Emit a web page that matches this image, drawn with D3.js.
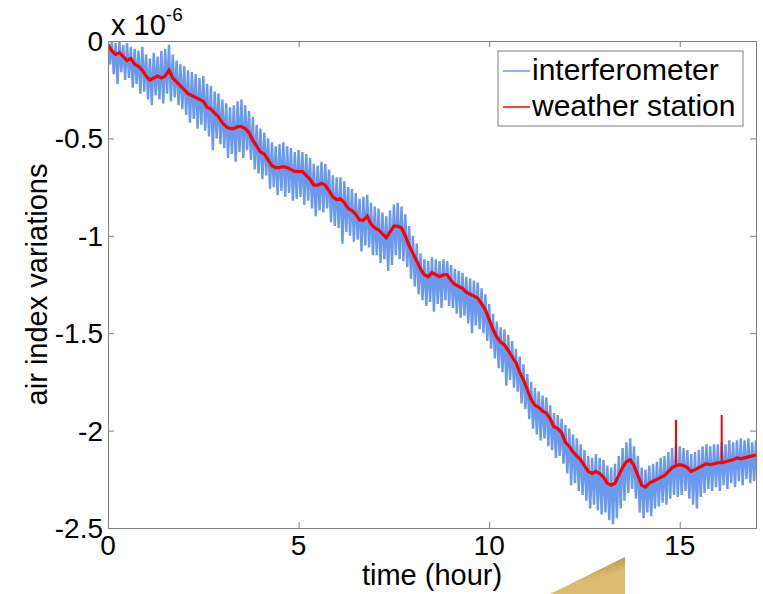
<!DOCTYPE html>
<html>
<head>
<meta charset="utf-8">
<script src="https://cdn.jsdelivr.net/npm/d3@7"></script>
<style>
  body { margin: 0; background: #fff; }
  svg { display: block; font-family: "Liberation Sans", Arial, sans-serif; }
</style>
</head>
<body>
<svg id="chart" width="763" height="594"></svg>
<script>
// time axis: one sample every 0.1 hour, 0 .. 17
const timeStep = 0.1;

// weather station (red), in units of 1e-6
const weatherStation = [
  -0.02, -0.05, -0.07, -0.06, -0.08, -0.10, -0.09, -0.12, -0.13, -0.15,
  -0.18, -0.20, -0.19, -0.18, -0.19, -0.18, -0.15, -0.19, -0.21, -0.23,
  -0.25, -0.27, -0.28, -0.29, -0.30, -0.31, -0.34, -0.35, -0.37, -0.39,
  -0.42, -0.44, -0.45, -0.45, -0.44, -0.44, -0.45, -0.47, -0.51, -0.54,
  -0.57, -0.58, -0.61, -0.64, -0.65, -0.65, -0.645, -0.65, -0.66, -0.67,
  -0.67, -0.67, -0.69, -0.71, -0.74, -0.74, -0.73, -0.74, -0.77, -0.80,
  -0.815, -0.81, -0.83, -0.86, -0.87, -0.89, -0.92, -0.92, -0.90, -0.94,
  -0.96, -0.97, -0.99, -1.01, -0.98, -0.95, -0.95, -0.96, -1.00, -1.05,
  -1.09, -1.13, -1.17, -1.20, -1.21, -1.19, -1.20, -1.21, -1.20, -1.20,
  -1.23, -1.25, -1.26, -1.27, -1.29, -1.30, -1.31, -1.32, -1.35, -1.38,
  -1.43, -1.48, -1.52, -1.545, -1.56, -1.59, -1.62, -1.65, -1.70, -1.74,
  -1.79, -1.84, -1.87, -1.88, -1.90, -1.91, -1.94, -1.98, -1.99, -2.01,
  -2.06, -2.08, -2.11, -2.13, -2.15, -2.18, -2.21, -2.22, -2.21, -2.22,
  -2.24, -2.27, -2.28, -2.27, -2.23, -2.19, -2.16, -2.15, -2.18, -2.23,
  -2.28, -2.29, -2.27, -2.26, -2.25, -2.24, -2.23, -2.21, -2.19, -2.18,
  -2.175, -2.18, -2.19, -2.21, -2.20, -2.19, -2.18, -2.17, -2.175, -2.17,
  -2.165, -2.165, -2.16, -2.155, -2.15, -2.14, -2.145, -2.14, -2.135, -2.13,
  -2.125
];

// the two short spikes of the weather station: [hour, base, top]
const stationSpikes = [
  [14.9, -2.18, -1.945],
  [16.1, -2.165, -1.92]
];

// interferometer (blue): upper and lower swing of the noise in each 0.1 h slot
const interfHigh = [
  0.00, 0.00, -0.01, 0.00, -0.02, -0.01, -0.03, -0.04, -0.05, -0.03,
  -0.07, -0.09, -0.06, -0.08, -0.05, -0.04, -0.02, -0.07, -0.10, -0.12,
  -0.13, -0.15, -0.16, -0.17, -0.19, -0.18, -0.22, -0.23, -0.26, -0.27,
  -0.30, -0.32, -0.34, -0.33, -0.31, -0.30, -0.33, -0.36, -0.39, -0.43,
  -0.45, -0.47, -0.50, -0.52, -0.54, -0.53, -0.52, -0.54, -0.55, -0.57,
  -0.56, -0.57, -0.58, -0.60, -0.63, -0.64, -0.62, -0.63, -0.66, -0.69,
  -0.70, -0.70, -0.72, -0.75, -0.76, -0.78, -0.81, -0.80, -0.79, -0.83,
  -0.85, -0.86, -0.88, -0.90, -0.87, -0.84, -0.83, -0.85, -0.89, -0.95,
  -1.00, -1.04, -1.09, -1.12, -1.13, -1.11, -1.12, -1.13, -1.12, -1.13,
  -1.15, -1.17, -1.18, -1.19, -1.21, -1.22, -1.23, -1.24, -1.27, -1.30,
  -1.35, -1.40, -1.44, -1.47, -1.48, -1.51, -1.54, -1.58, -1.62, -1.66,
  -1.71, -1.75, -1.78, -1.80, -1.82, -1.83, -1.87, -1.91, -1.92, -1.94,
  -1.97, -1.99, -2.02, -2.04, -2.07, -2.10, -2.13, -2.14, -2.12, -2.14,
  -2.15, -2.18, -2.19, -2.17, -2.13, -2.09, -2.06, -2.04, -2.08, -2.13,
  -2.19, -2.20, -2.18, -2.17, -2.16, -2.14, -2.13, -2.11, -2.09, -2.08,
  -2.08, -2.09, -2.10, -2.12, -2.11, -2.10, -2.08, -2.07, -2.08, -2.07,
  -2.07, -2.06, -2.07, -2.05, -2.06, -2.05, -2.04, -2.05, -2.04, -2.06,
  -2.05
];
const interfLow = [
  -0.12, -0.17, -0.22, -0.16, -0.20, -0.19, -0.24, -0.22, -0.27, -0.26,
  -0.30, -0.33, -0.28, -0.30, -0.32, -0.27, -0.31, -0.29, -0.33, -0.35,
  -0.38, -0.42, -0.40, -0.45, -0.43, -0.46, -0.49, -0.56, -0.50, -0.53,
  -0.55, -0.60, -0.58, -0.62, -0.57, -0.60, -0.56, -0.61, -0.66, -0.68,
  -0.71, -0.69, -0.76, -0.75, -0.79, -0.77, -0.80, -0.78, -0.82, -0.81,
  -0.80, -0.84, -0.82, -0.86, -0.90, -0.87, -0.88, -0.86, -0.93, -0.95,
  -0.96, -1.04, -0.98, -1.00, -1.03, -1.02, -1.08, -1.05, -1.06, -1.10,
  -1.10, -1.14, -1.12, -1.18, -1.15, -1.10, -1.12, -1.13, -1.16, -1.22,
  -1.26, -1.30, -1.33, -1.36, -1.34, -1.39, -1.35, -1.37, -1.33, -1.36,
  -1.37, -1.40, -1.42, -1.41, -1.45, -1.50, -1.46, -1.48, -1.50, -1.54,
  -1.58, -1.63, -1.68, -1.70, -1.77, -1.74, -1.78, -1.80, -1.86, -1.89,
  -1.94, -1.99, -2.02, -2.05, -2.04, -2.08, -2.10, -2.14, -2.13, -2.17,
  -2.22, -2.28, -2.27, -2.31, -2.33, -2.36, -2.40, -2.38, -2.41, -2.43,
  -2.42, -2.46, -2.48, -2.45, -2.40, -2.36, -2.32, -2.30, -2.35, -2.42,
  -2.45, -2.42, -2.44, -2.40, -2.39, -2.37, -2.38, -2.35, -2.33, -2.34,
  -2.33, -2.31, -2.35, -2.38, -2.40, -2.34, -2.32, -2.30, -2.31, -2.29,
  -2.31, -2.28, -2.30, -2.27, -2.29, -2.26, -2.28, -2.25, -2.27, -2.26,
  -2.24
];

const xTicks = [0, 5, 10, 15];
const yTicks = [0, -0.5, -1, -1.5, -2, -2.5];
const seriesNames = ["interferometer", "weather station"];
const seriesColors = ["#6a9aee", "#ff0000"];

const svg = d3.select("#chart");

const box = { left: 108, right: 756, top: 41, bottom: 528 };

const x = d3.scaleLinear().domain([0, 17]).range([box.left, box.right]);
const y = d3.scaleLinear().domain([-2.5, 0]).range([box.bottom, box.top]);

svg
  .append("defs")
  .append("clipPath")
  .attr("id", "plot-clip")
  .append("rect")
  .attr("x", box.left)
  .attr("y", box.top)
  .attr("width", box.right - box.left)
  .attr("height", box.bottom - box.top);

const line = d3
  .line()
  .x(function (d) {
    return x(d[0]);
  })
  .y(function (d) {
    return y(d[1]);
  });

// interferometer: alternate high and low swing so the noise fills a band
const interfPoints = [];
interfHigh.forEach(function (v, i) {
  interfPoints.push([i * timeStep, v]);
  interfPoints.push([i * timeStep + timeStep / 2, interfLow[i]]);
});

const stationPoints = weatherStation.map(function (v, i) {
  return [i * timeStep, v];
});

const plot = svg.append("g").attr("clip-path", "url(#plot-clip)");

plot
  .append("path")
  .datum(interfPoints)
  .attr("d", line)
  .attr("fill", "none")
  .attr("stroke", seriesColors[0])
  .attr("stroke-width", 2.4)
  .attr("stroke-linejoin", "bevel");

plot
  .append("path")
  .datum(stationPoints)
  .attr("d", line)
  .attr("fill", "none")
  .attr("stroke", seriesColors[1])
  .attr("stroke-width", 3.2);

plot
  .selectAll(".spike")
  .data(stationSpikes)
  .enter()
  .append("path")
  .attr("class", "spike")
  .attr("d", function (d) {
    return line([[d[0], d[1]], [d[0], d[2]]]);
  })
  .attr("stroke", seriesColors[1])
  .attr("stroke-width", 2);

// axes box with inward ticks on all four sides (matlab style)
const axisColor = "#808080";
const tickLen = 6;

const bottomAxis = d3.axisBottom(x).tickValues(xTicks).tickSize(-tickLen).tickFormat("");
const topAxis = d3.axisTop(x).tickValues(xTicks).tickSize(-tickLen).tickFormat("");
const leftAxis = d3.axisLeft(y).tickValues(yTicks).tickSize(-tickLen).tickFormat("");
const rightAxis = d3.axisRight(y).tickValues(yTicks).tickSize(-tickLen).tickFormat("");

function styleAxis(g) {
  g.select(".domain").attr("stroke", axisColor);
  g.selectAll(".tick line").attr("stroke", axisColor);
}

svg.append("g").attr("transform", "translate(0," + box.bottom + ")").call(bottomAxis).call(styleAxis);
svg.append("g").attr("transform", "translate(0," + box.top + ")").call(topAxis).call(styleAxis);
svg.append("g").attr("transform", "translate(" + box.left + ",0)").call(leftAxis).call(styleAxis);
svg.append("g").attr("transform", "translate(" + box.right + ",0)").call(rightAxis).call(styleAxis);

// tick labels
svg
  .selectAll(".xlab")
  .data(xTicks)
  .enter()
  .append("text")
  .attr("class", "xlab")
  .attr("x", function (d) {
    return x(d);
  })
  .attr("y", 555)
  .attr("text-anchor", "middle")
  .attr("font-size", 28)
  .text(function (d) {
    return d;
  });

svg
  .selectAll(".ylab")
  .data(yTicks)
  .enter()
  .append("text")
  .attr("class", "ylab")
  .attr("x", 103)
  .attr("y", function (d) {
    return y(d) + 10;
  })
  .attr("text-anchor", "end")
  .attr("font-size", 28)
  .text(function (d) {
    return d === 0 ? "0" : String(d);
  });

// exponent
const expo = svg.append("text").attr("x", 111).attr("y", 35).attr("font-size", 29);
expo.append("tspan").text("x 10");
expo.append("tspan").attr("font-size", 19).attr("dy", -14).text("-6");

// axis titles
svg
  .append("text")
  .attr("x", (box.left + box.right) / 2)
  .attr("y", 585)
  .attr("text-anchor", "middle")
  .attr("font-size", 29)
  .text("time (hour)");

svg
  .append("text")
  .attr("transform", "translate(47," + (box.top + box.bottom) / 2 + ") rotate(-90)")
  .attr("text-anchor", "middle")
  .attr("font-size", 29)
  .text("air index variations");

// legend
const legend = svg.append("g");
legend
  .append("rect")
  .attr("x", 498)
  .attr("y", 51)
  .attr("width", 245)
  .attr("height", 75)
  .attr("fill", "#fff")
  .attr("stroke", axisColor);

const legendRow = legend
  .selectAll(".row")
  .data(seriesNames)
  .enter()
  .append("g")
  .attr("class", "row")
  .attr("transform", function (d, i) {
    return "translate(0," + (80 + i * 36) + ")";
  });

legendRow
  .append("line")
  .attr("x1", 503)
  .attr("x2", 530)
  .attr("y1", -9)
  .attr("y2", -9)
  .attr("stroke", function (d, i) {
    return seriesColors[i];
  })
  .attr("stroke-width", 1.5);

legendRow
  .append("text")
  .attr("x", 532)
  .attr("font-size", 30)
  .text(function (d) {
    return d;
  });

// page-curl corner at the bottom of the picture
const grad = svg
  .select("defs")
  .append("linearGradient")
  .attr("id", "curl")
  .attr("x1", "0%")
  .attr("y1", "0%")
  .attr("x2", "35%")
  .attr("y2", "70%");
grad.append("stop").attr("offset", "0%").attr("stop-color", "#6e501c");
grad.append("stop").attr("offset", "22%").attr("stop-color", "#a98038");
grad.append("stop").attr("offset", "100%").attr("stop-color", "#dcbc72");

svg
  .append("polygon")
  .attr("points", "550,594 625,557 625,594")
  .attr("fill", "url(#curl)");
</script>
</body>
</html>
